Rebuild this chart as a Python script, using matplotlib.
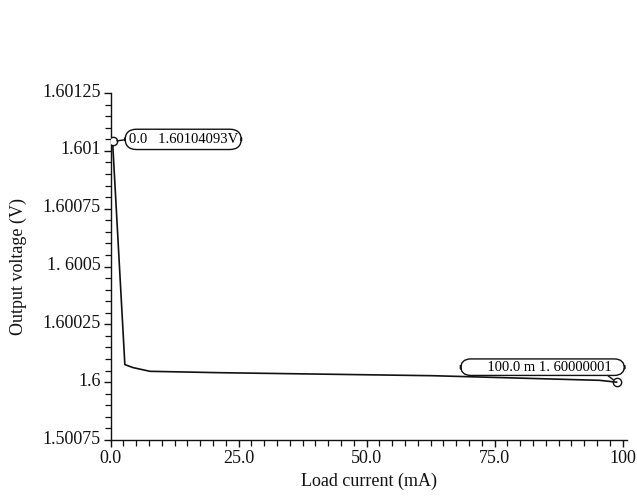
import matplotlib
matplotlib.use("Agg")
import matplotlib.pyplot as plt
from matplotlib.ticker import MultipleLocator, FixedLocator
import matplotlib.transforms as mtransforms

plt.rcParams['font.family'] = ['Liberation Serif', 'DejaVu Serif']

# Data
current_mA = [0.4, 2.8, 4.4, 7.7, 21.4, 62.9, 95.5, 98.8]
voltage_V = [1.60104093, 1.600076, 1.600063, 1.600047, 1.600041, 1.600028, 1.600008, 1.60000001]

x_ticks = [0, 25, 50, 75, 100]
x_tick_labels = ["0.0", "25.0", "50.0", "75.0", "100"]
y_ticks = [1.59975, 1.6, 1.60025, 1.6005, 1.60075, 1.601, 1.60125]
y_tick_labels = ["1.50075", "1.6", "1.60025", "1. 6005", "1.60075", "1.601", "1.60125"]

start_label = "0.0   1.60104093V"
end_label = "       100.0 m 1. 60000001   "

fig = plt.figure(figsize=(6.37, 4.99), dpi=100)
ax = fig.add_axes([0.1735, 0.1182, 0.8105, 0.6954])

ax.plot(current_mA, voltage_V, color="#111111", lw=1.2)
ax.plot([current_mA[0]], [voltage_V[0]], marker='o', ms=6, mfc='white',
        mec='#111111', mew=1.0, ls='none', zorder=3)
ax.plot([current_mA[-1]], [voltage_V[-1]], marker='o', ms=6, mfc='none',
        mec='#111111', mew=1.0, ls='none', zorder=3)

ax.set_xlim(0, 100.8)
ax.set_ylim(1.59975, 1.60125)

ax.xaxis.set_major_locator(FixedLocator(x_ticks))
ax.set_xticklabels(x_tick_labels)
ax.xaxis.set_minor_locator(MultipleLocator(2.5))
ax.yaxis.set_major_locator(FixedLocator(y_ticks))
ax.set_yticklabels(y_tick_labels)
ax.yaxis.set_minor_locator(MultipleLocator(0.00005))

for s in ['top', 'right']:
    ax.spines[s].set_visible(False)
for s in ['left', 'bottom']:
    ax.spines[s].set_linewidth(1.0)
    ax.spines[s].set_color('#111111')

ax.tick_params(axis='both', which='major', direction='out', length=5, width=1.0,
               labelsize=13, colors='#111111', pad=2)
ax.tick_params(axis='both', which='minor', direction='out', length=4, width=0.9,
               colors='#111111')

# y tick labels sit slightly above their ticks
offset = mtransforms.ScaledTranslation(0, 3 / 100, fig.dpi_scale_trans)
for lab in ax.get_yticklabels():
    lab.set_transform(lab.get_transform() + offset)

ax.set_xlabel("Load current (mA)", fontsize=13, color='#111111', labelpad=4)
ax.set_ylabel("Output voltage (V)", fontsize=13, color='#111111', labelpad=11)

ax.annotate(start_label, xy=(current_mA[0], voltage_V[0]), xytext=(16, 2),
            textcoords='offset pixels', ha='left', va='center', fontsize=10.5,
            bbox=dict(boxstyle="round,pad=0.25,rounding_size=0.8", fc='white',
                      ec='#111111', lw=1.0),
            arrowprops=dict(arrowstyle='-', color='#111111', lw=1.0,
                            relpos=(0, 0.5), shrinkA=0, shrinkB=3))
ax.annotate(end_label, xy=(current_mA[-1], voltage_V[-1]), xytext=(-74, 15),
            textcoords='offset pixels', ha='center', va='center', fontsize=10.5,
            bbox=dict(boxstyle="round,pad=0.12,rounding_size=0.7", fc='white',
                      ec='#111111', lw=1.0),
            arrowprops=dict(arrowstyle='-', color='#111111', lw=1.0,
                            relpos=(0.89, 0.0), shrinkA=0, shrinkB=3))

fig.savefig("out.png", dpi=100)
